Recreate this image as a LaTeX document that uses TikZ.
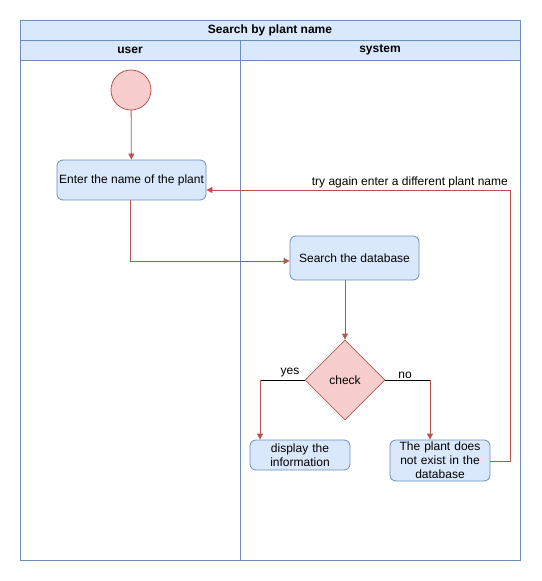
\documentclass[tikz,border=0pt]{standalone}
\usepackage{fontspec}
\setmainfont{Liberation Sans}
\usetikzlibrary{shapes.geometric,arrows.meta}
\definecolor{bluefill}{HTML}{DAE8FC}
\definecolor{bluedraw}{HTML}{6C8EBF}
\definecolor{redfill}{HTML}{F8CECC}
\definecolor{reddraw}{HTML}{B85450}
\begin{document}
\begin{tikzpicture}[x=1pt,y=-1pt,
  every node/.style={font=\fontsize{12}{14}\selectfont, inner sep=0pt},
  lane/.style={draw=bluedraw, line width=0.8pt},
  header/.style={draw=bluedraw, fill=bluefill, line width=0.8pt},
  actbox/.style={draw=bluedraw, fill=bluefill, rounded corners=6pt, line width=0.8pt, align=center},
  flow/.style={draw=reddraw, line width=0.8pt, -{Triangle[length=6pt,width=6pt]}},
  lbl/.style={font=\fontsize{12}{14}\selectfont}]
\useasboundingbox (0,0) rectangle (541,581);
% swimlane frame
\draw[header] (20,20) rectangle (520,40);
\draw[header] (20,40) rectangle (240,60);
\draw[header] (240,40) rectangle (520,60);
\draw[lane] (20,60) rectangle (240,560);
\draw[lane] (240,60) rectangle (520,560);
\node[font=\bfseries\fontsize{12}{14}\selectfont] (title) at (270,30) {Search by plant name};
\node[font=\bfseries\fontsize{12}{14}\selectfont] (huser) at (130,50) {user};
\node[font=\bfseries\fontsize{12}{14}\selectfont] (hsys) at (380,50) {system};
% activity nodes
\node[circle, draw=reddraw, fill=redfill, line width=0.8pt, minimum size=40pt] (start) at (131,90) {};
\node[actbox, minimum width=149pt, minimum height=40pt] (enter) at (131.5,180) {Enter the name of the plant};
\node[actbox, minimum width=129pt, minimum height=44pt] (search) at (354.5,258) {Search the database};
\node[diamond, draw=reddraw, fill=redfill, line width=0.8pt, minimum width=80pt, minimum height=80pt, aspect=1] (check) at (345,380) {check};
\node[actbox, minimum width=100pt, minimum height=30pt, text width=90pt] (display) at (300,455) {display the\\information};
\node[actbox, minimum width=100pt, minimum height=41pt, text width=96pt] (notfound) at (440,460.5) {The plant does\\not exist in the\\database};
% connectors
\coordinate (c1) at (130,261);
\coordinate (cy) at (260,380);
\coordinate (cn) at (430,380);
\coordinate (r1) at (510,461);
\coordinate (r2) at (510,190);
\draw[flow] (start) -- (enter);
\draw[flow] (enter.south -| c1) -- (c1) -- (search.west |- c1);
\draw[flow] (search.south -| check) -- (check.north);
\draw[line width=0.8pt] (check.west) -- (cy);
\draw[flow] (cy) -- (display.north -| cy);
\draw[line width=0.8pt] (check.east) -- (cn);
\draw[flow] (cn) -- (notfound.north -| cn);
\draw[flow] (notfound.east |- r1) -- (r1) -- (r2) -- (enter.east |- r2);
% labels
\node[lbl] (lyes) at (290,373) {yes};
\node[lbl] (lno) at (405,375) {no};
\node[lbl, anchor=east] (ltry) at (508,182) {try again enter a different plant name};
\end{tikzpicture}
\end{document}
